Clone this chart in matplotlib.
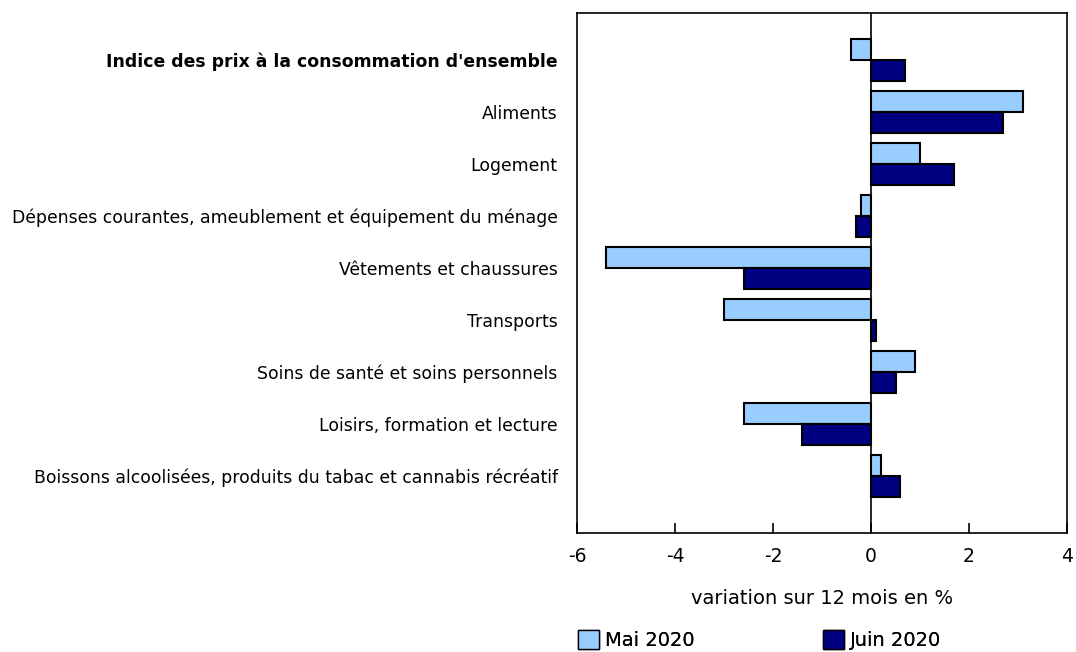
import numpy as np
import matplotlib.pyplot as plt
from matplotlib.patches import Patch

categories = ["Indice des prix à la consommation d'ensemble",
              "Aliments",
              "Logement",
              "Dépenses courantes, ameublement et équipement du ménage",
              "Vêtements et chaussures",
              "Transports",
              "Soins de santé et soins personnels",
              "Loisirs, formation et lecture",
              "Boissons alcoolisées, produits du tabac et cannabis récréatif"]
mai_2020 = [-0.4, 3.1, 1.0, -0.2, -5.4, -3.0, 0.9, -2.6, 0.2]
juin_2020 = [0.7, 2.7, 1.7, -0.3, -2.6, 0.1, 0.5, -1.4, 0.6]
series_names = ["Mai 2020", "Juin 2020"]
colors = ["#99ccff", "#000080"]

fig = plt.figure(figsize=(10.76, 6.52), dpi=100)
ax = fig.add_axes([577/1076, 1-533/652, 490/1076, 520/652])

y = np.arange(len(categories))
h = 0.4
ax.barh(y - h/2, mai_2020, height=h, color=colors[0], edgecolor="black", linewidth=1.5)
ax.barh(y + h/2, juin_2020, height=h, color=colors[1], edgecolor="black", linewidth=1.5)
ax.axvline(0, color="black", linewidth=1.2)

ax.set_xlim(-6, 4)
ax.set_ylim(9.1, -0.9)
ax.set_xticks([-6, -4, -2, 0, 2, 4])
ax.set_xticklabels(["-6", "-4", "-2", "0", "2", "4"], fontsize=13.5)
ax.set_yticks(y)
ax.set_yticklabels(categories, fontsize=12.4)
ax.get_yticklabels()[0].set_fontweight("bold")
ax.tick_params(axis="y", length=0, pad=14)
ax.tick_params(axis="x", direction="in", length=7, width=1.2, pad=10)
for s in ax.spines.values():
    s.set_linewidth(1.2)
ax.set_xlabel("variation sur 12 mois en %", fontsize=14, labelpad=17)

# two separate legend entries, spaced like the original
for i, x0 in enumerate([560, 805]):
    lg = fig.legend(handles=[Patch(facecolor=colors[i], edgecolor="black", label=series_names[i])],
                    loc="lower left", bbox_to_anchor=(x0/1076, -0.024), frameon=False,
                    fontsize=14, handlelength=1.1, handleheight=1.1, handletextpad=0.3)
    fig.add_artist(lg)

fig.savefig("out.png", dpi=100)
